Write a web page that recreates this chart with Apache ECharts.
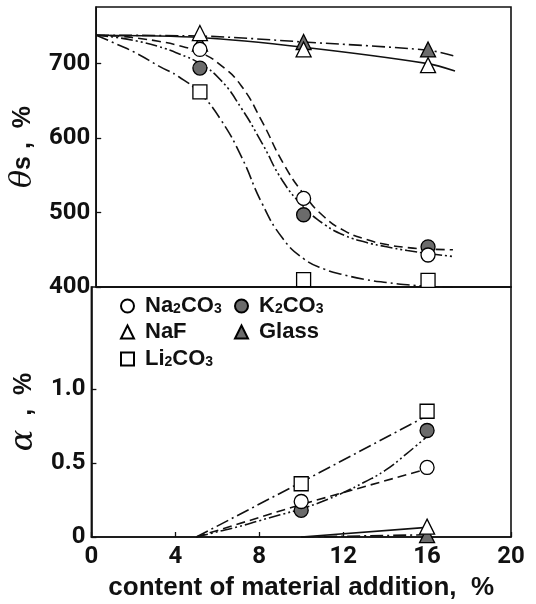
<!DOCTYPE html>
<html>
<head>
<meta charset="utf-8">
<script src="https://cdn.jsdelivr.net/npm/echarts@6/dist/echarts.min.js"></script>
<style>
  html, body { margin: 0; padding: 0; background: #fff; }
  #chart { width: 536px; height: 604px; }
</style>
</head>
<body>
<div id="chart"></div>
<script>
// marker data
const xMark = [5, 10, 16];
const thetaNa2CO3 = [719, 519, 443];
const thetaK2CO3 = [694, 497, 454];
const thetaNaF = [741, 719, 698];
const thetaGlass = [727, 729, 719];
const thetaLi2CO3 = [662, 410, 409];

const xAlpha = [10, 16];
const alphaNa2CO3 = [0.24, 0.47];
const alphaK2CO3 = [0.18, 0.72];
const alphaLi2CO3 = [0.36, 0.85];
const xAlphaLow = [16];
const alphaNaF = [0.07];
const alphaGlass = [0.012];

// fitted curves at every unit of x
const curveX = [0, 1, 2, 3, 4, 5, 6, 7, 8, 9, 10, 11, 12, 13, 14, 15, 16, 17.2];
const curveNa2CO3 = [738, 737, 734, 730, 724, 715, 698, 670, 622, 567, 525, 494, 475, 464, 457, 453, 451, 450];
const curveK2CO3 = [738, 735, 730, 723, 713, 700, 678, 640, 593, 542, 508, 484, 469, 460, 454, 449, 445, 441];
const curveLi2CO3 = [738, 726, 713, 697, 682, 660, 625, 575, 512, 465, 438, 424, 416, 410, 406, 403, 401, 399];
const curveFlatX = [0, 5, 10, 16, 17.3];
const curveNaF = [738, 735, 722, 700, 690];
const curveGlass = [738, 737, 729, 718, 710];

const lineX = [5, 10, 16];
const lineNa2CO3 = [0, 0.22, 0.46];
const lineLi2CO3 = [0, 0.37, 0.82];
const lineKX = [5, 6, 7, 8, 9, 10, 11, 12, 13, 14, 15, 16];
const lineK2CO3 = [0, 0.035, 0.07, 0.11, 0.15, 0.19, 0.24, 0.30, 0.37, 0.45, 0.56, 0.68];
const lineLowX = [10, 16];
const lineNaF = [0, 0.065];
const lineGlass = [0, 0.015];

const xTicks = [0, 4, 8, 12, 16, 20];
const thetaTicks = [400, 500, 600, 700];
const alphaTicks = [0, 0.5, 1.0];

const GRAY = '#6b6b6b';
const DASH = [9, 5];
const DASHDOT = [13, 4, 2, 4];
const DASHDOTDOT = [12, 3, 2, 3, 2, 3];
const NUM_FONT = 'Roboto, "Liberation Sans", sans-serif';
const TXT_FONT = '"Liberation Sans", Arial, sans-serif';

const zip = (xs, ys) => xs.map((x, i) => [x, ys[i]]);

function marker(name, symbol, filled, xs, ys, grid, z) {
  return {
    name: name,
    type: 'scatter',
    xAxisIndex: grid,
    yAxisIndex: grid,
    symbol: symbol,
    symbolSize: symbol === 'triangle' ? 15 : 14,
    z: z,
    itemStyle: { color: filled ? GRAY : '#fff', borderColor: '#000', borderWidth: 1.3, opacity: 1 },
    data: zip(xs, ys)
  };
}

function curve(xs, ys, dash, grid, smooth) {
  return {
    type: 'line',
    xAxisIndex: grid,
    yAxisIndex: grid,
    smooth: smooth,
    symbol: 'none',
    silent: true,
    z: 1,
    lineStyle: { color: '#111', width: 1.6, type: dash },
    data: zip(xs, ys)
  };
}

const chart = echarts.init(document.getElementById('chart'));

const sub = name => name.replace(/(\d)/g, '{s|$1}');
const legendText = {
  fontFamily: TXT_FONT,
  fontWeight: 'bold',
  fontSize: 22,
  color: '#111',
  padding: [0, 0, 0, 6],
  rich: { s: { fontSize: 14, fontWeight: 'bold', fontFamily: TXT_FONT, verticalAlign: 'bottom', padding: [0, 0, 1, 0] } }
};
function legendAt(name, left, top) {
  return {
    data: [name], left: left, top: top, itemWidth: 13, itemHeight: 13,
    formatter: sub, textStyle: legendText, selectedMode: false
  };
}

const axisName = {
  color: '#111', fontSize: 25, fontWeight: 'bold', fontFamily: TXT_FONT
};

const option = {
  backgroundColor: '#fff',
  animation: false,
  grid: [
    { left: 85, top: 7, width: 426, height: 280, show: true, borderColor: '#111', borderWidth: 1.6 },
    { left: 85, top: 287, width: 426, height: 250, show: true, borderColor: '#111', borderWidth: 1.6 }
  ],
  legend: [
    legendAt('Na2CO3', 115, 290),
    legendAt('K2CO3', 229, 290),
    legendAt('NaF', 115, 316),
    legendAt('Glass', 229, 316),
    legendAt('Li2CO3', 115, 343)
  ],
  xAxis: [
    {
      gridIndex: 0, type: 'value', min: 0, max: 20, interval: 4,
      axisLine: { lineStyle: { color: '#111', width: 1.6 } },
      axisTick: { show: false }, axisLabel: { show: false }, splitLine: { show: false }
    },
    {
      gridIndex: 1, type: 'value', min: 0, max: 20, interval: 4,
      axisLine: { lineStyle: { color: '#111', width: 1.6 } },
      axisTick: { inside: true, length: 5, lineStyle: { color: '#111', width: 1.3 } },
      axisLabel: { customValues: xTicks, margin: 8, color: '#111', fontSize: 24, fontWeight: 'bold', fontFamily: NUM_FONT },
      splitLine: { show: false },
      name: 'content of material addition,  %',
      nameLocation: 'middle', nameGap: 38,
      nameTextStyle: { color: '#111', fontSize: 26, fontWeight: 'bold', fontFamily: TXT_FONT }
    }
  ],
  yAxis: [
    {
      gridIndex: 0, type: 'value', min: 400, max: 776, interval: 100,
      axisLine: { lineStyle: { color: '#111', width: 1.6 } },
      axisTick: { inside: true, length: 5, customValues: thetaTicks, lineStyle: { color: '#111', width: 1.3 } },
      axisLabel: { customValues: thetaTicks, margin: 6, color: '#111', fontSize: 24, fontWeight: 'bold', fontFamily: NUM_FONT },
      splitLine: { show: false },
      name: '{i|θ}s ,  %',
      nameLocation: 'middle', nameGap: 38, nameRotate: 90,
      nameTextStyle: Object.assign({}, axisName, {
        rich: { i: { fontSize: 30, fontStyle: 'italic', fontWeight: 'normal', fontFamily: '"DejaVu Serif", "Liberation Serif", serif', color: '#111' } }
      })
    },
    {
      gridIndex: 1, type: 'value', min: 0, max: 1.69, interval: 0.5,
      axisLine: { lineStyle: { color: '#111', width: 1.6 } },
      axisTick: { inside: true, length: 5, customValues: alphaTicks, lineStyle: { color: '#111', width: 1.3 } },
      axisLabel: {
        customValues: alphaTicks, margin: 6, color: '#111', fontSize: 24, fontWeight: 'bold', fontFamily: NUM_FONT,
        formatter: v => (v === 0 ? '0' : v.toFixed(1))
      },
      splitLine: { show: false },
      name: '{i|α}  ,  %',
      nameLocation: 'middle', nameGap: 38, nameRotate: 90,
      nameTextStyle: Object.assign({}, axisName, {
        rich: { i: { fontSize: 32, fontStyle: 'italic', fontWeight: 'normal', fontFamily: '"DejaVu Serif", "Liberation Serif", serif', color: '#111' } }
      })
    }
  ],
  series: [
    curve(curveX, curveNa2CO3, DASH, 0, 0.5),
    curve(curveX, curveK2CO3, DASHDOTDOT, 0, 0.5),
    curve(curveX, curveLi2CO3, DASHDOT, 0, 0.5),
    curve(curveFlatX, curveNaF, 'solid', 0, 0.3),
    curve(curveFlatX, curveGlass, DASHDOT, 0, 0.3),
    curve(lineX, lineNa2CO3, DASH, 1, false),
    curve(lineKX, lineK2CO3, DASHDOTDOT, 1, 0.5),
    curve(lineX, lineLi2CO3, DASHDOT, 1, false),
    curve(lineLowX, lineNaF, 'solid', 1, false),
    curve(lineLowX, lineGlass, DASHDOT, 1, false),

    marker('Glass', 'triangle', true, xMark, thetaGlass, 0, 3),
    marker('NaF', 'triangle', false, xMark, thetaNaF, 0, 4),
    marker('Li2CO3', 'rect', false, xMark, thetaLi2CO3, 0, 4),
    marker('K2CO3', 'circle', true, xMark, thetaK2CO3, 0, 5),
    marker('Na2CO3', 'circle', false, xMark, thetaNa2CO3, 0, 6),

    marker('Glass', 'triangle', true, xAlphaLow, alphaGlass, 1, 3),
    marker('NaF', 'triangle', false, xAlphaLow, alphaNaF, 1, 4),
    marker('Li2CO3', 'rect', false, xAlpha, alphaLi2CO3, 1, 4),
    marker('K2CO3', 'circle', true, xAlpha, alphaK2CO3, 1, 5),
    marker('Na2CO3', 'circle', false, xAlpha, alphaNa2CO3, 1, 6)
  ]
};

chart.setOption(option);
</script>
</body>
</html>
